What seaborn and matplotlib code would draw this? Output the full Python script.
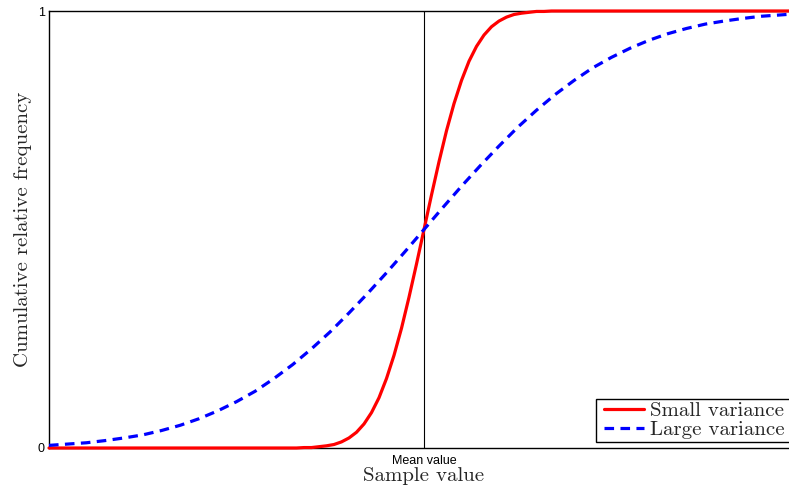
import matplotlib
matplotlib.use("Agg")
import matplotlib.pyplot as plt
from matplotlib.patches import Rectangle
import seaborn as sns

# sample positions (mean = 0) and cumulative frequency
x_small = [-5.0, -2.0, -1.8, -1.7, -1.6, -1.5, -1.4, -1.3, -1.2, -1.1, -1.0,
           -0.9, -0.8, -0.7, -0.6, -0.5, -0.4, -0.3, -0.2, -0.1, 0.0,
           0.1, 0.2, 0.3, 0.4, 0.5, 0.6, 0.7, 0.8, 0.9, 1.0,
           1.1, 1.2, 1.3, 1.4, 1.5, 1.6, 1.7, 1.8, 2.0, 5.0]
y_small = [0.000, 0.000, 0.000, 0.000, 0.001, 0.001, 0.003, 0.005, 0.008, 0.014, 0.023,
           0.036, 0.055, 0.081, 0.115, 0.159, 0.212, 0.274, 0.345, 0.421, 0.500,
           0.579, 0.655, 0.726, 0.788, 0.841, 0.885, 0.919, 0.945, 0.964, 0.977,
           0.986, 0.992, 0.995, 0.997, 0.999, 0.999, 1.000, 1.000, 1.000, 1.000]

x_large = [-5.0, -4.75, -4.5, -4.25, -4.0, -3.75, -3.5, -3.25, -3.0, -2.75, -2.5,
           -2.25, -2.0, -1.75, -1.5, -1.25, -1.0, -0.75, -0.5, -0.25, 0.0,
           0.25, 0.5, 0.75, 1.0, 1.25, 1.5, 1.75, 2.0, 2.25, 2.5,
           2.75, 3.0, 3.25, 3.5, 3.75, 4.0, 4.25, 4.5, 4.75, 5.0]
y_large = [0.006, 0.009, 0.012, 0.017, 0.023, 0.030, 0.040, 0.052, 0.067, 0.085, 0.106,
           0.130, 0.159, 0.191, 0.227, 0.266, 0.309, 0.354, 0.401, 0.450, 0.500,
           0.550, 0.599, 0.646, 0.691, 0.734, 0.773, 0.809, 0.841, 0.870, 0.894,
           0.915, 0.933, 0.948, 0.960, 0.970, 0.977, 0.983, 0.988, 0.991, 0.994]

y_ticks = [0, 1]
y_tick_labels = ["0", "1"]
x_ticks = [0]
x_tick_labels = ["Mean value"]

sns.set_style("white")
plt.rcParams["font.family"] = ["Liberation Sans", "DejaVu Sans"]

fig = plt.figure(figsize=(7.89, 4.93), dpi=100)
# axes runs a little past the right edge of the picture, as in the original
ax = fig.add_axes([49 / 789, 45 / 493, 750 / 789, 437 / 493])

ax.axvline(0, color="black", lw=0.8, zorder=1)
sns.lineplot(x=x_small, y=y_small, color="red", lw=2.3, label="Small variance",
             ax=ax, clip_on=False, zorder=3)
sns.lineplot(x=x_large, y=y_large, color="blue", lw=2.3, linestyle=(0, (3, 2)),
             label="Large variance", ax=ax, clip_on=False, zorder=3)

ax.set_xlim(-5, 5)
ax.set_ylim(0, 1)
ax.set_yticks(y_ticks)
ax.set_yticklabels(y_tick_labels)
ax.set_xticks(x_ticks)
ax.set_xticklabels(x_tick_labels)
ax.tick_params(length=0, labelsize=9, pad=3, colors="black")
ax.tick_params(axis="x", pad=5)

for s in ax.spines.values():
    s.set_color("black")
    s.set_linewidth(1.0)

ax.set_xlabel("Sample value", fontfamily="cmr10", fontsize=15, labelpad=0)
ax.set_ylabel("Cumulative relative frequency", fontfamily="cmr10", fontsize=15, labelpad=4)

leg = ax.legend(loc="lower right", bbox_to_anchor=(1 - 11 / 750, 6 / 437),
                prop={"family": "cmr10", "size": 15}, frameon=False,
                labelspacing=0.0, borderpad=0.15, handletextpad=0.3,
                handlelength=1.9, borderaxespad=0)
leg.set_zorder(6)

# legend box: wider padding on the sides than on top/bottom, runs off the right edge
fig.canvas.draw()
bb = leg.get_window_extent().transformed(fig.transFigure.inverted())
pad_l = 5 / 789
pad_r = 20 / 789
box = Rectangle((bb.x0 - pad_l, bb.y0), bb.width + pad_l + pad_r, bb.height,
                transform=fig.transFigure, facecolor="white", edgecolor="black",
                lw=1.0, zorder=5, clip_on=False)
ax.add_patch(box)

plt.savefig("out.png", dpi=100)
